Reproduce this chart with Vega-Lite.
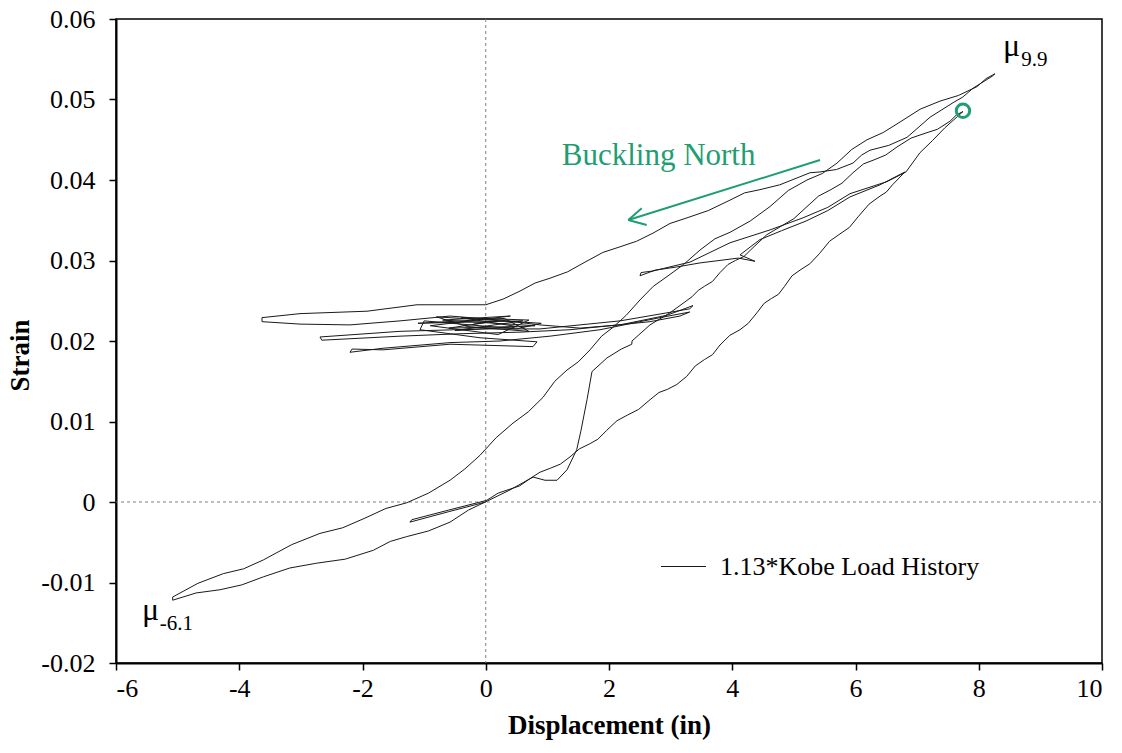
{
  "$schema": "https://vega.github.io/schema/vega-lite/v6.json",
  "width": 986,
  "height": 644,
  "autosize": {"type": "none"},
  "padding": {"left": 116, "top": 19, "right": 20, "bottom": 90},
  "background": "white",
  "config": {
    "font": "Liberation Serif",
    "view": {"stroke": "black", "strokeWidth": 1.5},
    "axis": {"grid": false, "domainColor": "black", "domainWidth": 2, "tickColor": "black", "tickWidth": 1.5, "tickSize": 7, "labelFont": "Liberation Serif", "labelFontSize": 26, "labelColor": "black", "titleFont": "Liberation Serif", "titleFontSize": 27, "titleFontWeight": "bold", "titleColor": "black"},
    "legend": {"orient": "none", "legendX": 544, "legendY": 524, "padding": 0, "symbolType": "stroke", "symbolSize": 2025, "symbolStrokeWidth": 1.2, "symbolStrokeColor": "black", "labelFont": "Liberation Serif", "labelFontSize": 26, "labelColor": "black", "labelOffset": 13, "labelLimit": 0, "title": null}
  },
  "datasets": {
    "path": [
      {"i":1,"x":0,"y":0},{"i":2,"x":-0.6,"y":-0.0012},{"i":3,"x":-1.23,"y":-0.0025},{"i":4,"x":-1.2,"y":-0.0022},{"i":5,"x":-0.6,"y":-0.001},{"i":6,"x":0.015,"y":0.0002},
      {"i":6.5,"x":0.2,"y":0.0011},{"i":7,"x":0.394,"y":0.0016},{"i":7.5,"x":0.55,"y":0.002},{"i":8,"x":0.718,"y":0.0029},{"i":8.5,"x":0.88,"y":0.0037},{"i":9,"x":1.05,"y":0.0042},{"i":9.5,"x":1.21,"y":0.0047},{"i":10,"x":1.367,"y":0.0056},{"i":10.5,"x":1.52,"y":0.0066},{"i":11,"x":1.68,"y":0.0072},{"i":11.5,"x":1.82,"y":0.0078},{"i":12,"x":1.963,"y":0.0089},{"i":12.5,"x":2.13,"y":0.0101},{"i":13,"x":2.3,"y":0.0108},{"i":13.5,"x":2.48,"y":0.0115},{"i":14,"x":2.665,"y":0.0127},{"i":14.5,"x":2.81,"y":0.0136},{"i":15,"x":2.95,"y":0.014},{"i":15.5,"x":3.1,"y":0.0146},{"i":16,"x":3.261,"y":0.0156},{"i":16.5,"x":3.4,"y":0.0169},{"i":17,"x":3.55,"y":0.0177},{"i":17.5,"x":3.68,"y":0.0183},{"i":18,"x":3.801,"y":0.0195},{"i":18.5,"x":3.96,"y":0.0207},{"i":19,"x":4.126,"y":0.0214},{"i":19.5,"x":4.26,"y":0.0222},{"i":20,"x":4.4,"y":0.0235},{"i":20.5,"x":4.52,"y":0.0247},{"i":21,"x":4.64,"y":0.0253},{"i":21.5,"x":4.75,"y":0.0258},{"i":22,"x":4.85,"y":0.0268},{"i":22.5,"x":4.97,"y":0.0281},{"i":23,"x":5.099,"y":0.0288},{"i":23.5,"x":5.26,"y":0.0296},{"i":24,"x":5.42,"y":0.0309},{"i":24.5,"x":5.58,"y":0.0324},{"i":25,"x":5.748,"y":0.0333},{"i":25.5,"x":5.9,"y":0.0341},{"i":26,"x":6.05,"y":0.0355},{"i":26.5,"x":6.22,"y":0.037},{"i":27,"x":6.398,"y":0.038},{"i":27.5,"x":6.5,"y":0.0385},{"i":28,"x":6.6,"y":0.0394},{"i":29,"x":6.803,"y":0.041},
      {"i":30,"x":6.398,"y":0.0394},{"i":31,"x":5.911,"y":0.0379},{"i":32,"x":5.55,"y":0.0362},{"i":33,"x":5.197,"y":0.0349},{"i":34,"x":4.8,"y":0.0337},{"i":35,"x":4.45,"y":0.0326},{"i":36,"x":4.126,"y":0.0307},{"i":37,"x":4.369,"y":0.0299},{"i":38,"x":4.1,"y":0.0303},{"i":39,"x":3.477,"y":0.0297},{"i":40,"x":3.1,"y":0.0292},{"i":41,"x":2.747,"y":0.0288},{"i":42,"x":2.503,"y":0.0281},{"i":43,"x":2.52,"y":0.0285},{"i":44,"x":2.714,"y":0.0287},{"i":45,"x":3.314,"y":0.0298},{"i":46,"x":3.963,"y":0.0322},{"i":47,"x":4.613,"y":0.0338},{"i":48,"x":5.148,"y":0.0353},{"i":49,"x":5.55,"y":0.0366},{"i":50,"x":5.911,"y":0.0383},{"i":51,"x":6.511,"y":0.0398},{"i":52,"x":6.819,"y":0.041},
      {"i":53,"x":7.047,"y":0.0434},{"i":54,"x":7.25,"y":0.0449},{"i":55,"x":7.452,"y":0.0465},{"i":56,"x":7.744,"y":0.0485},
      {"i":56.5,"x":7.64,"y":0.0481},{"i":57,"x":7.533,"y":0.0473},{"i":57.5,"x":7.33,"y":0.0463},{"i":58,"x":7.128,"y":0.0458},{"i":58.5,"x":6.9,"y":0.0452},{"i":59,"x":6.673,"y":0.0441},{"i":59.5,"x":6.49,"y":0.0431},{"i":60,"x":6.3,"y":0.0425},{"i":60.5,"x":6.13,"y":0.042},{"i":61,"x":5.959,"y":0.0409},{"i":61.5,"x":5.78,"y":0.0396},{"i":62,"x":5.6,"y":0.0388},{"i":62.5,"x":5.4,"y":0.038},{"i":63,"x":5.213,"y":0.0367},{"i":63.5,"x":5.0,"y":0.0352},{"i":64,"x":4.78,"y":0.0342},{"i":64.5,"x":4.56,"y":0.0332},{"i":65,"x":4.337,"y":0.0316},{"i":65.5,"x":4.19,"y":0.0305},{"i":66,"x":4.05,"y":0.03},{"i":66.5,"x":3.93,"y":0.0295},{"i":67,"x":3.801,"y":0.0285},{"i":67.5,"x":3.68,"y":0.0274},{"i":68,"x":3.55,"y":0.0268},{"i":68.5,"x":3.45,"y":0.0263},{"i":69,"x":3.347,"y":0.0255},
      {"i":70,"x":2.99,"y":0.0235},{"i":71,"x":2.665,"y":0.022},{"i":72,"x":2.373,"y":0.02},{"i":73,"x":2.37,"y":0.0196},{"i":74,"x":2.2,"y":0.019},{"i":75,"x":1.968,"y":0.0179},{"i":76,"x":1.724,"y":0.0162},{"i":77,"x":1.643,"y":0.0127},{"i":78,"x":1.546,"y":0.0089},{"i":79,"x":1.476,"y":0.0065},{"i":80,"x":1.319,"y":0.004},{"i":81,"x":1.156,"y":0.0027},{"i":82,"x":0.961,"y":0.0027},{"i":83,"x":0.767,"y":0.0031},{"i":84,"x":0.394,"y":0.0015},{"i":85,"x":0.02,"y":0.0001},
      {"i":85.5,"x":-0.28,"y":-0.001},{"i":86,"x":-0.58,"y":-0.0025},{"i":86.5,"x":-0.93,"y":-0.0036},{"i":87,"x":-1.283,"y":-0.0043},{"i":87.5,"x":-1.55,"y":-0.0049},{"i":88,"x":-1.825,"y":-0.006},{"i":88.5,"x":-2.28,"y":-0.0071},{"i":89,"x":-2.743,"y":-0.0076},{"i":89.5,"x":-3.18,"y":-0.0082},{"i":90,"x":-3.61,"y":-0.0093},{"i":90.5,"x":-3.96,"y":-0.0103},{"i":91,"x":-4.312,"y":-0.0109},{"i":91.5,"x":-4.7,"y":-0.0113},{"i":92,"x":-5.08,"y":-0.0122},
      {"i":93,"x":-5.08,"y":-0.0118},{"i":93.5,"x":-4.67,"y":-0.0101},{"i":94,"x":-4.259,"y":-0.0089},{"i":94.5,"x":-3.93,"y":-0.0083},{"i":95,"x":-3.61,"y":-0.0072},{"i":95.5,"x":-3.15,"y":-0.0053},{"i":96,"x":-2.69,"y":-0.0039},{"i":96.5,"x":-2.32,"y":-0.0032},{"i":97,"x":-1.959,"y":-0.002},{"i":97.5,"x":-1.62,"y":-0.0008},{"i":98,"x":-1.283,"y":-0.0001},{"i":98.5,"x":-0.93,"y":0.0011},{"i":99,"x":-0.58,"y":0.0027},{"i":99.5,"x":-0.34,"y":0.0041},{"i":100,"x":-0.093,"y":0.0058},{"i":100.5,"x":0.17,"y":0.008},{"i":101,"x":0.442,"y":0.0098},{"i":101.5,"x":0.69,"y":0.0112},{"i":102,"x":0.929,"y":0.013},{"i":102.5,"x":1.12,"y":0.015},{"i":103,"x":1.319,"y":0.0164},{"i":103.5,"x":1.5,"y":0.0174},{"i":104,"x":1.692,"y":0.0189},{"i":104.5,"x":1.88,"y":0.0206},{"i":105,"x":2.065,"y":0.0217},{"i":105.5,"x":2.28,"y":0.0232},{"i":106,"x":2.503,"y":0.0251},{"i":106.5,"x":2.72,"y":0.0268},{"i":107,"x":2.941,"y":0.028},{"i":107.5,"x":3.21,"y":0.0295},{"i":108,"x":3.477,"y":0.0313},{"i":108.5,"x":3.72,"y":0.0327},{"i":109,"x":3.963,"y":0.0335},{"i":109.5,"x":4.29,"y":0.0349},{"i":110,"x":4.613,"y":0.0367},{"i":110.5,"x":4.91,"y":0.0387},{"i":111,"x":5.213,"y":0.04},{"i":111.5,"x":5.46,"y":0.0408},{"i":112,"x":5.7,"y":0.0421},{"i":112.5,"x":5.94,"y":0.0438},{"i":113,"x":6.187,"y":0.045},{"i":113.5,"x":6.45,"y":0.0459},{"i":114,"x":6.722,"y":0.0472},{"i":114.5,"x":7.05,"y":0.0488},{"i":115,"x":7.371,"y":0.0498},{"i":115.5,"x":7.67,"y":0.0505},{"i":116,"x":7.972,"y":0.0516},{"i":116.5,"x":8.12,"y":0.0526},{"i":117,"x":8.264,"y":0.0532},
      {"i":118,"x":8.22,"y":0.0529},{"i":119,"x":7.907,"y":0.0514},{"i":119.5,"x":7.74,"y":0.0503},{"i":120,"x":7.582,"y":0.0496},{"i":120.5,"x":7.21,"y":0.0478},{"i":121,"x":6.836,"y":0.0453},{"i":121.5,"x":6.54,"y":0.0443},{"i":122,"x":6.235,"y":0.0437},{"i":122.5,"x":6.1,"y":0.0431},{"i":123,"x":5.959,"y":0.0421},{"i":123.5,"x":5.69,"y":0.0413},{"i":124,"x":5.424,"y":0.041},{"i":124.5,"x":5.26,"y":0.0409},{"i":125,"x":5.099,"y":0.0404},{"i":125.5,"x":4.77,"y":0.0394},{"i":126,"x":4.45,"y":0.0388},{"i":126.5,"x":4.2,"y":0.0384},{"i":127,"x":3.963,"y":0.0375},{"i":127.5,"x":3.61,"y":0.0362},{"i":128,"x":3.266,"y":0.0353},{"i":128.5,"x":2.99,"y":0.0346},{"i":129,"x":2.714,"y":0.0334},{"i":129.5,"x":2.45,"y":0.0324},{"i":130,"x":2.179,"y":0.0317},{"i":130.5,"x":1.9,"y":0.031},{"i":131,"x":1.611,"y":0.0298},{"i":131.5,"x":1.33,"y":0.0286},{"i":132,"x":1.043,"y":0.0278},{"i":132.5,"x":0.8,"y":0.0272},{"i":133,"x":0.556,"y":0.0262},{"i":133.5,"x":0.28,"y":0.0252},{"i":134,"x":0,"y":0.0245},{"i":135,"x":-0.58,"y":0.0245},{"i":136,"x":-1.116,"y":0.0245},{"i":137,"x":-1.927,"y":0.0237},{"i":138,"x":-3.014,"y":0.0234},{"i":139,"x":-3.631,"y":0.0229},
      {"i":140,"x":-3.631,"y":0.0224},{"i":141,"x":-3.014,"y":0.0221},{"i":142,"x":-2.203,"y":0.022},{"i":143,"x":-1.391,"y":0.0225},{"i":144,"x":-0.58,"y":0.0231},{"i":145,"x":0.231,"y":0.0226},{"i":146,"x":0.88,"y":0.022},{"i":147,"x":1.529,"y":0.0216},{"i":148,"x":2.179,"y":0.022},{"i":149,"x":2.941,"y":0.0232},{"i":150,"x":3.363,"y":0.0244},
      {"i":151,"x":3.31,"y":0.024},{"i":152,"x":2.941,"y":0.0235},{"i":153,"x":2.179,"y":0.0225},{"i":154,"x":1.529,"y":0.022},{"i":155,"x":0.88,"y":0.0215},{"i":156,"x":-0.045,"y":0.0215},{"i":157,"x":-1.391,"y":0.0212},{"i":158,"x":-2.69,"y":0.0205},
      {"i":159,"x":-2.66,"y":0.0201},{"i":160,"x":-1.391,"y":0.0206},{"i":161,"x":-0.418,"y":0.0209},{"i":162,"x":0.556,"y":0.0211},{"i":163,"x":1.367,"y":0.0214},{"i":164,"x":2.016,"y":0.0219},{"i":165,"x":2.665,"y":0.0224},{"i":166,"x":3.152,"y":0.0231},{"i":167,"x":3.31,"y":0.0236},
      {"i":168,"x":2.828,"y":0.0229},{"i":169,"x":1.854,"y":0.0214},{"i":170,"x":1.043,"y":0.0206},{"i":171,"x":0.231,"y":0.02},{"i":172,"x":-0.58,"y":0.0198},{"i":173,"x":-1.667,"y":0.0191},{"i":174,"x":-2.203,"y":0.0186},
      {"i":175,"x":-2.17,"y":0.019},{"i":176,"x":-1.667,"y":0.0189},{"i":177,"x":-0.58,"y":0.0196},{"i":178,"x":0.767,"y":0.0193},{"i":179,"x":0.832,"y":0.0199},{"i":180,"x":-0.093,"y":0.0204},{"i":181,"x":-1.067,"y":0.0214},
      {"i":182,"x":-1.0,"y":0.0225},{"i":183,"x":0.5,"y":0.0215},{"i":184,"x":0.9,"y":0.0222},{"i":185,"x":-0.8,"y":0.023},{"i":186,"x":-0.3,"y":0.0218},{"i":187,"x":0.7,"y":0.0212},{"i":188,"x":0.3,"y":0.0228},{"i":189,"x":-1.1,"y":0.0222},{"i":190,"x":0.6,"y":0.0225},{"i":191,"x":-0.5,"y":0.0213},{"i":192,"x":0.8,"y":0.0219},{"i":193,"x":-0.7,"y":0.0226},{"i":194,"x":0.4,"y":0.0231},{"i":195,"x":-0.9,"y":0.0219},{"i":196,"x":0.2,"y":0.0208},{"i":197,"x":0.7,"y":0.0226},{"i":198,"x":-0.4,"y":0.0229},{"i":199,"x":0.5,"y":0.0218},{"i":200,"x":-0.6,"y":0.0216},{"i":201,"x":0.1,"y":0.0224},{"i":202,"x":-0.2,"y":0.0221}
    ]
  },
  "layer": [
    {
      "data": {"values": [{"x": 0}]},
      "mark": {"type": "rule", "color": "#808080", "strokeWidth": 1, "strokeDash": [3, 3]},
      "encoding": {"x": {"field": "x", "type": "quantitative", "scale": {"domain": [-6, 10], "nice": false, "zero": false}, "title": "Displacement (in)"}}
    },
    {
      "data": {"values": [{"y": 0}]},
      "mark": {"type": "rule", "color": "#808080", "strokeWidth": 1, "strokeDash": [3, 3]},
      "encoding": {"y": {"field": "y", "type": "quantitative", "scale": {"domain": [-0.02, 0.06], "nice": false, "zero": false}, "title": "Strain"}}
    },
    {
      "data": {"name": "path"},
      "transform": [{"calculate": "'1.13*Kobe Load History'", "as": "s"}],
      "mark": {"type": "line", "strokeWidth": 1, "interpolate": "linear"},
      "encoding": {
        "x": {"field": "x", "type": "quantitative", "scale": {"domain": [-6, 10], "nice": false, "zero": false}, "title": "Displacement (in)",
              "axis": {"values": [-6, -4, -2, 0, 2, 4, 6, 8, 10], "labelExpr": "datum.value + ''", "labelPadding": 5, "titleY": 62, "titleBaseline": "middle"}},
        "y": {"field": "y", "type": "quantitative", "scale": {"domain": [-0.02, 0.06], "nice": false, "zero": false}, "title": "Strain",
              "axis": {"values": [-0.02, -0.01, 0, 0.01, 0.02, 0.03, 0.04, 0.05, 0.06], "labelExpr": "abs(datum.value) < 1e-9 ? '0' : (datum.value < 0 ? '-' : '') + format(abs(datum.value), '.2f')", "labelPadding": 14, "titleX": -96, "titleY": 336, "titleAngle": -90, "titleBaseline": "middle", "titleAlign": "center"}},
        "order": {"field": "i", "type": "quantitative"},
        "color": {"field": "s", "type": "nominal", "scale": {"range": ["#1a1a1a"]}}
      }
    },
    {
      "data": {"values": [
        {"x": 5.424, "y": 0.04248, "x2": 2.313, "y2": 0.03503},
        {"x": 2.313, "y": 0.03503, "x2": 2.531, "y2": 0.03648},
        {"x": 2.313, "y": 0.03503, "x2": 2.612, "y2": 0.03441}
      ]},
      "mark": {"type": "rule", "color": "#1f9e72", "strokeWidth": 2},
      "encoding": {
        "x": {"field": "x", "type": "quantitative"},
        "y": {"field": "y", "type": "quantitative"},
        "x2": {"field": "x2"},
        "y2": {"field": "y2"}
      }
    },
    {
      "data": {"values": [{"x": 7.744, "y": 0.0486}]},
      "mark": {"type": "point", "shape": "circle", "size": 180, "filled": false, "stroke": "#1f9e72", "strokeWidth": 3, "opacity": 1},
      "encoding": {
        "x": {"field": "x", "type": "quantitative"},
        "y": {"field": "y", "type": "quantitative"}
      }
    },
    {
      "data": {"values": [{"x": 1.233, "y": 0.04186, "t": "Buckling North"}]},
      "mark": {"type": "text", "align": "left", "baseline": "alphabetic", "font": "Liberation Serif", "fontSize": 31, "color": "#1f9e72"},
      "encoding": {
        "x": {"field": "x", "type": "quantitative"},
        "y": {"field": "y", "type": "quantitative"},
        "text": {"field": "t"}
      }
    },
    {
      "data": {"values": [{"x": 8.394, "y": 0.0554, "t": "μ"}, {"x": -5.578, "y": -0.01466, "t": "μ"}]},
      "mark": {"type": "text", "align": "left", "baseline": "alphabetic", "font": "Liberation Serif", "fontSize": 32, "color": "black"},
      "encoding": {
        "x": {"field": "x", "type": "quantitative"},
        "y": {"field": "y", "type": "quantitative"},
        "text": {"field": "t"}
      }
    },
    {
      "data": {"values": [{"x": 8.69, "y": 0.05416, "t": "9.9"}, {"x": -5.29, "y": -0.0159, "t": "-6.1"}]},
      "mark": {"type": "text", "align": "left", "baseline": "alphabetic", "font": "Liberation Serif", "fontSize": 21, "color": "black"},
      "encoding": {
        "x": {"field": "x", "type": "quantitative"},
        "y": {"field": "y", "type": "quantitative"},
        "text": {"field": "t"}
      }
    }
  ]
}
